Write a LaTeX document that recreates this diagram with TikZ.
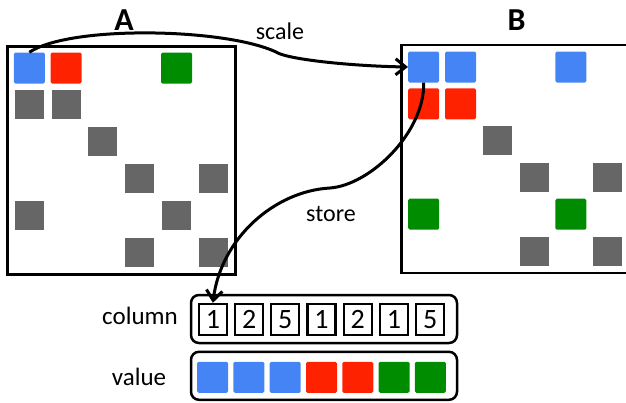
\documentclass[tikz,border=0pt]{standalone}
\usepackage{fontspec}
\setmainfont{Carlito}
\usetikzlibrary{arrows.meta}

\definecolor{cblue}{RGB}{68,132,244}
\definecolor{cred}{RGB}{255,34,0}
\definecolor{cgreen}{RGB}{0,140,0}
\definecolor{cgray}{RGB}{102,102,102}

\begin{document}
\begin{tikzpicture}[x=1pt,y=-1pt,
	matbox/.style={draw,line width=2.5pt,minimum width=228pt,minimum height=228pt,inner sep=0pt},
	cell/.style={minimum size=31pt,inner sep=0pt,rounded corners=1.5pt},
	graycell/.style={fill=cgray,minimum size=29pt,inner sep=0pt},
	idxcell/.style={draw,line width=2.2pt,minimum width=28pt,minimum height=31pt,inner sep=0pt,
		font=\fontsize{28}{28}\selectfont},
	arraybox/.style={draw,line width=2.5pt,rounded corners=8pt,minimum width=266pt,minimum height=48pt},
	lbl/.style={font=\fontsize{24}{24}\selectfont},
	link/.style={line width=3pt,-{Straight Barb[length=10pt,width=16pt]}}]
	
	\useasboundingbox (0,0) rectangle (626,402);
	\clip (0,0) rectangle (626,402);
	
	% the two matrices
	\node[matbox] (matA) at (121.7,160.5) {};
	\node[matbox,minimum width=240pt] (matB) at (521.7,158.9) {};
	\node[font=\fontsize{32}{32}\selectfont\bfseries] (titleA) at (124,20) {A};
	\node[font=\fontsize{32}{32}\selectfont\bfseries] (titleB) at (516.7,20) {B};
	
	% entries of A
	\foreach \r/\c/\col in {0/0/cblue,0/1/cred,0/4/cgreen}
		\node[cell,fill=\col] (A-\r-\c) at ({29.3+36.8*\c},{68+36.8*\r}) {};
	\foreach \r/\c in {1/0,1/1,2/2,3/3,3/5,4/0,4/4,5/3,5/5}
		\node[graycell] (A-\r-\c) at ({29.3+36.8*\c},{68+36.8*\r}) {};
	
	% entries of B
	\foreach \r/\c/\col in {0/0/cblue,0/1/cblue,0/4/cblue,1/0/cred,1/1/cred,4/0/cgreen,4/4/cgreen}
		\node[cell,fill=\col] (B-\r-\c) at ({423.7+36.8*\c},{67+36.8*\r}) {};
	\foreach \r/\c in {2/2,3/3,3/5,5/3,5/5}
		\node[graycell] (B-\r-\c) at ({423.7+36.8*\c},{67+36.8*\r}) {};
	
	% column and value arrays
	\node[arraybox] (colbox) at (324,319) {};
	\node[arraybox] (valbox) at (324,375.8) {};
	\node[lbl,font=\fontsize{25}{25}\selectfont] (collbl) at (140,316) {column};
	\node[lbl,font=\fontsize{25}{25}\selectfont] (vallbl) at (139,377) {value};
	\foreach \v [count=\i] in {1,2,5,1,2,1,5}
		\node[idxcell] (col-\i) at ({176.7+36.2*\i},319.4) {\v};
	\foreach \col [count=\i] in {cblue,cblue,cblue,cred,cred,cgreen,cgreen}
		\node[cell,fill=\col] (val-\i) at ({176.3+36.3*\i},377.3) {};
	
	% scale arrow A -> B
	\coordinate (scalebend) at (276,52);
	\draw[link] (A-0-0.north) .. controls (70,25) and (225,28) .. (scalebend)
		.. controls +(10,7) and +(-60,-1) .. (B-0-0.west);
	\node[lbl] (scalelbl) at (280,31) {scale};
	
	% store arrow B -> column
	\coordinate (storebend) at (330,188);
	\draw[link] (B-0-0.south) .. controls +(1,50) and +(40,-3) .. (storebend)
		.. controls +(-55,3) and +(8,-65) .. (col-1.north);
	\node[lbl] (storelbl) at (331,214) {store};
	
\end{tikzpicture}
\end{document}
